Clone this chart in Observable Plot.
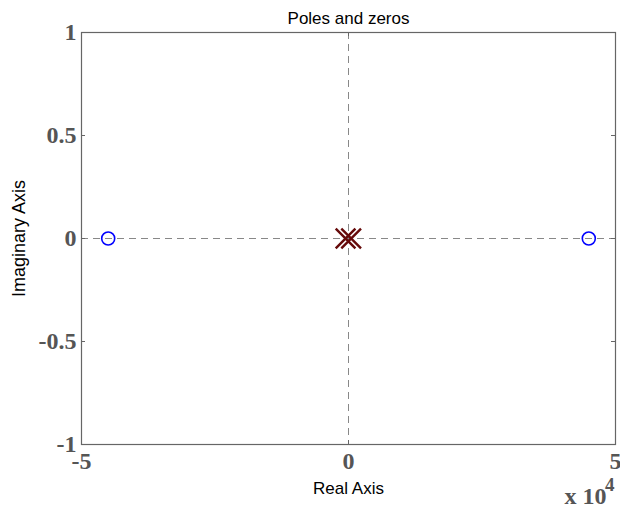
<!DOCTYPE html>
<html>
<head>
<meta charset="utf-8">
<script src="https://cdn.jsdelivr.net/npm/d3@7"></script>
<script src="https://cdn.jsdelivr.net/npm/@observablehq/plot@0.6"></script>
<style>
  html, body { margin: 0; padding: 0; background: #fff; }
</style>
</head>
<body>
<div id="chart"></div>
<script>
// Data
const zerosRe = [-45000, 45000];
const zerosIm = [0, 0];
const polesRe = [-550, 500];
const polesIm = [0, 0];
const xTicks = [-50000, 0, 50000];
const yTicks = [-1, -0.5, 0, 0.5, 1];
const xTickLabels = ["-5", "0", "5"];
const yTickLabels = ["-1", "-0.5", "0", "0.5", "1"];
const titleText = "Poles and zeros";
const xLabel = "Real Axis";
const yLabel = "Imaginary Axis";
const expBase = "x 10";
const expPow = "4";

const zeros = zerosRe.map((re, i) => ({re, im: zerosIm[i]}));
const poles = polesRe.map((re, i) => ({re, im: polesIm[i]}));

const serif = "'Liberation Serif', 'Times New Roman', serif";
const sans = "'Liberation Sans', Arial, sans-serif";
const axisGray = "#666";
const labelGray = "#555";

const W = 620, H = 507;
const mL = 81, mR = 5, mT = 32, mB = 63;
const innerW = W - mL - mR, innerH = H - mT - mB;

const chart = Plot.plot({
  width: W,
  height: H,
  marginLeft: mL,
  marginRight: mR,
  marginTop: mT,
  marginBottom: mB,
  style: {background: "#fff", overflow: "visible"},
  x: {domain: [-50000, 50000], axis: null},
  y: {domain: [-1, 1], axis: null},
  marks: [
    // dashed axes through origin
    Plot.ruleX([0], {x: d => d, stroke: "#888", strokeDasharray: "7,5", strokeWidth: 1}),
    Plot.ruleY([0], {y: d => d, stroke: "#888", strokeDasharray: "7,5", strokeWidth: 1}),
    // inward ticks
    Plot.tickX(xTicks, {x: d => d, stroke: axisGray, insetTop: innerH - 4}),
    Plot.tickX(xTicks, {x: d => d, stroke: axisGray, insetBottom: innerH - 4}),
    Plot.tickY(yTicks, {y: d => d, stroke: axisGray, insetRight: innerW - 4}),
    Plot.tickY(yTicks, {y: d => d, stroke: axisGray, insetLeft: innerW - 4}),
    Plot.frame({stroke: axisGray, strokeWidth: 1.2}),
    // zeros
    Plot.dot(zeros, {x: "re", y: "im", r: 6.5, stroke: "#0000ff", strokeWidth: 1.6, fill: "none"}),
    // poles
    Plot.dot(poles, {x: "re", y: "im", symbol: "times", r: 9, stroke: "#660a0a", strokeWidth: 2.4}),
    // tick labels
    Plot.text(xTicks, {x: d => d, frameAnchor: "bottom", text: (d, i) => xTickLabels[i],
      dy: 17, lineAnchor: "middle", textAnchor: "middle",
      fontFamily: serif, fontWeight: "bold", fontSize: 24, fill: labelGray}),
    Plot.text(yTicks, {y: d => d, frameAnchor: "left", text: (d, i) => yTickLabels[i],
      dx: -5, lineAnchor: "middle", textAnchor: "end",
      fontFamily: serif, fontWeight: "bold", fontSize: 24, fill: labelGray}),
    // exponent
    Plot.text([expBase], {frameAnchor: "bottom-right", text: d => d, dx: -9, dy: 59,
      lineAnchor: "bottom", textAnchor: "end",
      fontFamily: serif, fontWeight: "bold", fontSize: 24, fill: labelGray}),
    Plot.text([expPow], {frameAnchor: "bottom-right", text: d => d, dx: -1, dy: 46,
      lineAnchor: "bottom", textAnchor: "end",
      fontFamily: serif, fontWeight: "bold", fontSize: 19, fill: labelGray}),
    // title and axis labels
    Plot.text([titleText], {frameAnchor: "top", text: d => d, dy: -9, lineAnchor: "bottom",
      fontFamily: sans, fontSize: 17, fill: "#000"}),
    Plot.text([xLabel], {frameAnchor: "bottom", text: d => d, dy: 49, lineAnchor: "bottom",
      fontFamily: sans, fontSize: 17, fill: "#000"}),
    Plot.text([yLabel], {frameAnchor: "left", text: d => d, dx: -62, rotate: -90,
      lineAnchor: "middle", textAnchor: "middle",
      fontFamily: sans, fontSize: 18, fill: "#000"})
  ]
});

document.getElementById("chart").appendChild(chart);
</script>
</body>
</html>
